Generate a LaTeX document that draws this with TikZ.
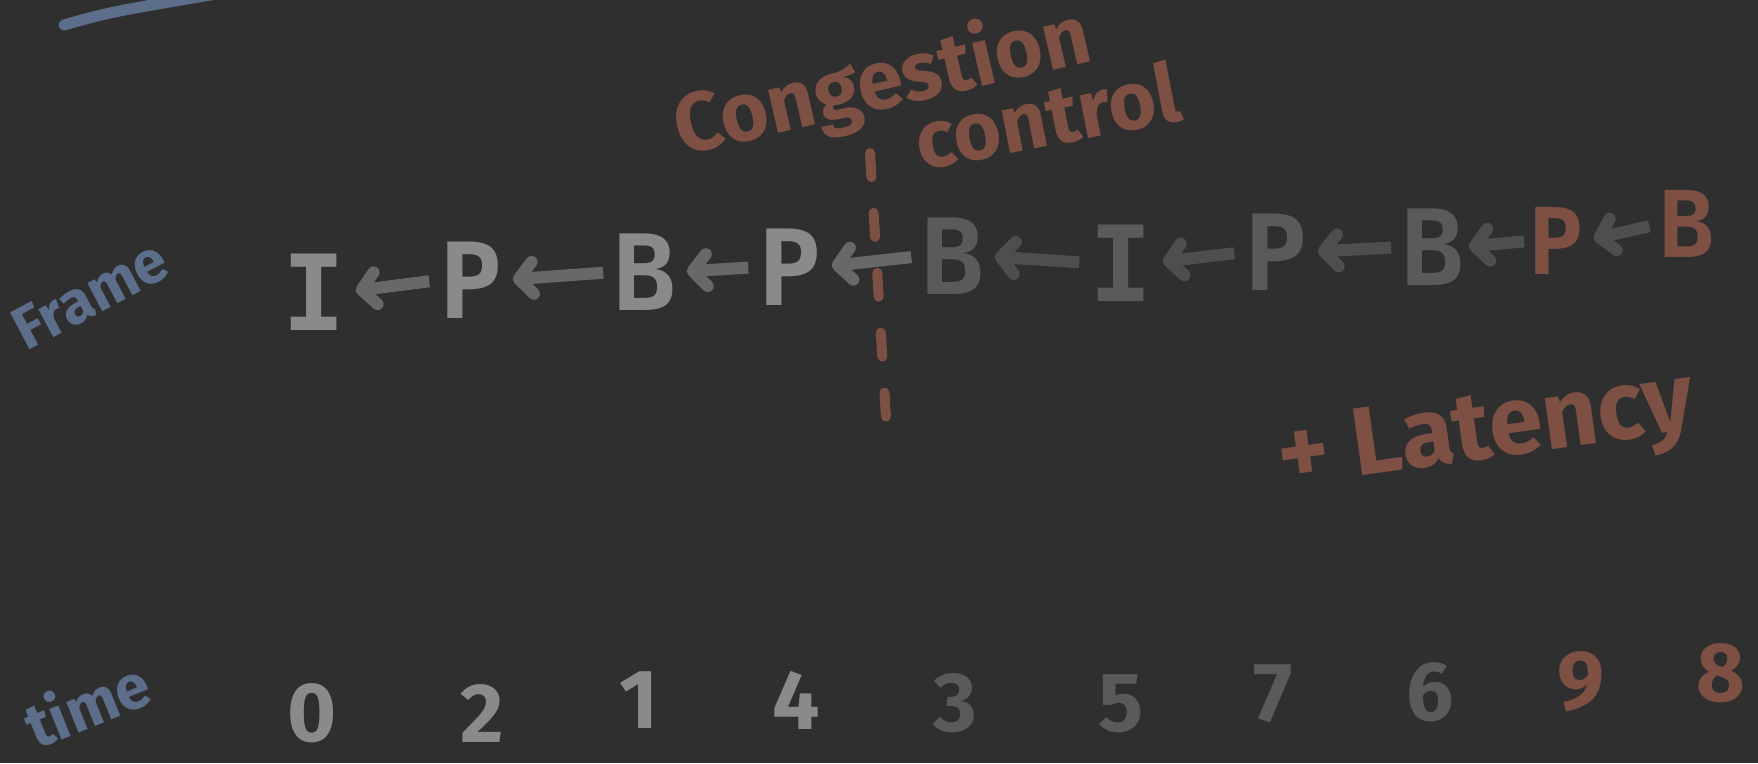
\documentclass[tikz,border=0pt]{standalone}
\usepackage{fontspec}
\setmainfont{Fira Sans}
\newfontfamily\monof{DejaVu Sans Mono}
\usetikzlibrary{arrows.meta}
\definecolor{bg}{HTML}{2F2F2F}
\definecolor{brn}{HTML}{7D5043}
\definecolor{blu}{HTML}{5C6E8A}
\definecolor{lgr}{HTML}{8A8A8A}
\definecolor{dgr}{HTML}{5A5A5A}
\definecolor{lar}{HTML}{686868}
\definecolor{dar}{HTML}{4E4E4E}
\begin{document}
\begin{tikzpicture}[x=1pt,y=1pt,
  frm/.style={inner sep=0pt, font=\monof\bfseries\fontsize{105}{105}\selectfont},
  frms/.style={inner sep=0pt, font=\monof\bfseries\fontsize{92}{92}\selectfont},
  num/.style={inner sep=0pt, font=\bfseries\fontsize{84}{84}\selectfont},
  word/.style={inner sep=0pt, anchor=base},
  arr/.style={line width=12pt, -{Straight Barb[length=14pt,width=32pt,round]}, shorten <=10pt, shorten >=10pt},
  dashline/.style={brn, line width=10pt, line cap=round, dash pattern=on 24pt off 36pt}]
\fill[bg] (0,0) rectangle (1758,-763);
\useasboundingbox (0,0) rectangle (1758,-763);
% top-left blue stroke
\coordinate (s1) at (64,-25);
\coordinate (s2) at (228,8);
\draw[blu, line width=11pt, line cap=round] (s1) .. controls (110,-12) .. (s2);
% labels
\node[word, text=blu, rotate=28, font=\bfseries\fontsize{60}{60}\selectfont] (frame) at (100,-313) {Frame};
\node[word, text=blu, rotate=22, font=\bfseries\fontsize{62}{62}\selectfont] (time) at (96,-726) {time};
\node[word, text=brn, rotate=13, font=\bfseries\fontsize{83}{83}\selectfont] (cong) at (888,-108) {Congestion};
\node[word, text=brn, rotate=11, font=\bfseries\fontsize{82}{82}\selectfont] (ctrl) at (1053,-145) {control};
\node[word, text=brn, rotate=8, font=\bfseries\fontsize{97}{97}\selectfont] (lat) at (1490,-458) {+ Latency};
% frames
\node[frm, text=lgr] (f1) at (314,-292) {I};
\node[frm, text=lgr] (f2) at (471,-280) {P};
\node[frm, text=lgr] (f3) at (645,-272) {B};
\node[frm, text=lgr] (f4) at (790,-267) {P};
\node[frm, text=dgr] (f5) at (953,-256) {B};
\node[frm, text=dgr] (f6) at (1121,-263) {I};
\node[frm, text=dgr] (f7) at (1276,-252) {P};
\node[frm, text=dgr] (f8) at (1433,-247) {B};
\node[frms, text=brn] (f9) at (1556,-241) {P};
\node[frms, text=brn] (f10) at (1687,-224) {B};
% arrows
\draw[arr, lar] (f2.west) -- (f1.east);
\draw[arr, lar] (f3.west) -- (f2.east);
\draw[arr, lar] (f4.west) -- (f3.east);
\draw[arr, lar] (f5.west) -- (f4.east);
\draw[arr, dar] (f6.west) -- (f5.east);
\draw[arr, dar] (f7.west) -- (f6.east);
\draw[arr, dar] (f8.west) -- (f7.east);
\draw[arr, dar, shorten <=4pt, shorten >=4pt] (f9.west) -- (f8.east);
\draw[arr, dar] (f10.west) -- (f9.east);
% dashed cut
\coordinate (dtop) at (870,-153);
\coordinate (dbot) at (886,-418);
\draw[dashline] (dtop) -- (dbot);
% times
\node[num, text=lgr] (n0) at (312,-713) {0};
\node[num, text=lgr] (n1) at (482,-714) {2};
\node[num, text=lgr] (n2) at (639,-700) {1};
\node[num, text=lgr] (n3) at (796,-700) {4};
\node[num, text=dgr] (n4) at (955,-703) {3};
\node[num, text=dgr] (n5) at (1121,-704) {5};
\node[num, text=dgr] (n6) at (1273,-694) {7};
\node[num, text=dgr] (n7) at (1430,-692) {6};
\node[num, text=brn] (n8) at (1581,-682) {9};
\node[num, text=brn] (n9) at (1721,-673) {8};
\end{tikzpicture}
\end{document}
